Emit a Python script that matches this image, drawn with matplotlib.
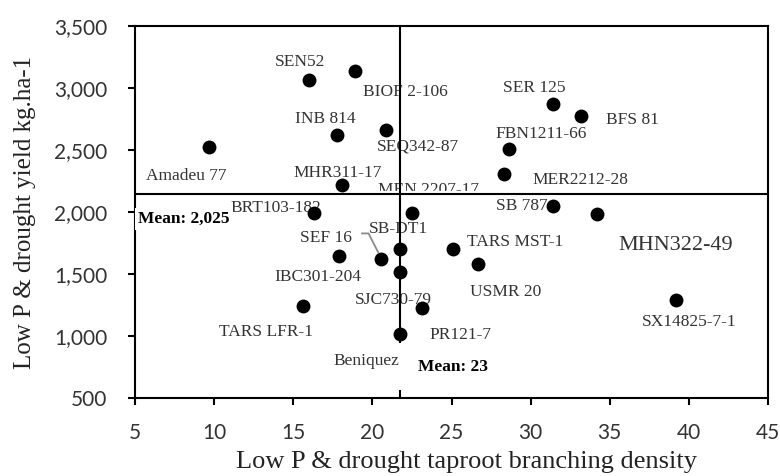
import matplotlib
matplotlib.use("Agg")
import matplotlib.pyplot as plt
from matplotlib.ticker import FuncFormatter

# Genotype data: taproot branching density vs. yield under low P & drought
genotypes = ["Amadeu 77", "SEN52", "BIOF 2-106", "INB 814", "SEQ342-87",
             "MHR311-17", "BRT103-182", "MEN 2207-17", "SB-DT1", "SEF 16",
             "IBC301-204", "SJC730-79", "TARS LFR-1", "PR121-7", "Beniquez",
             "SER 125", "BFS 81", "FBN1211-66", "MER2212-28", "SB 787",
             "MHN322-49", "TARS MST-1", "USMR 20", "SX14825-7-1"]
branching = [9.7, 16.0, 18.9, 17.75, 20.87,
             18.1, 16.3, 22.5, 21.75, 20.53,
             17.91, 21.75, 15.64, 23.12, 21.75,
             31.4, 33.17, 28.64, 28.32, 31.4,
             34.22, 25.12, 26.7, 39.18]
yield_kg = [2525, 3065, 3135, 2620, 2665,
            2215, 1995, 1995, 1705, 1620,
            1645, 1515, 1240, 1225, 1020,
            2870, 2775, 2505, 2310, 2050,
            1980, 1705, 1580, 1290]

# Reference lines and their captions
x_line = 21.75
y_line = 2145
x_caption = "Mean: 23"
y_caption = "Mean: 2,025"

x_ticks = [5, 10, 15, 20, 25, 30, 35, 40, 45]
y_ticks = [500, 1000, 1500, 2000, 2500, 3000, 3500]

# Label placement: offsets (pixels) from each point to its label centre
label_offsets = {
    "Amadeu 77": (-23, -29), "SEN52": (-9, 18), "BIOF 2-106": (50, -21),
    "INB 814": (-11, 16), "SEQ342-87": (32, -17), "MHR311-17": (-5, 12),
    "BRT103-182": (-38, 5), "MEN 2207-17": (17, 23), "SB-DT1": (-2, 20),
    "SEF 16": (-55, 21), "IBC301-204": (-21, -21), "SJC730-79": (-7, -28),
    "TARS LFR-1": (-37, -26), "PR121-7": (39, -27), "Beniquez": (-34, -27),
    "SER 125": (-19, 16), "BFS 81": (52, -4), "FBN1211-66": (32, 15),
    "MER2212-28": (76, -6), "SB 787": (-31, 0), "MHN322-49": (78, -31),
    "TARS MST-1": (62, 7), "USMR 20": (27, -28), "SX14825-7-1": (13, -22),
}
big_labels = {"MHN322-49"}

serif = "Liberation Serif"
label_color = "#333333"

fig = plt.figure(figsize=(7.8, 4.76), dpi=100)
ax = fig.add_axes([135 / 780, 78 / 476, 633 / 780, 372 / 476])
ax.set_xlim(x_ticks[0], x_ticks[-1])
ax.set_ylim(y_ticks[0], y_ticks[-1])

# Reference lines, with a white halo under the horizontal one
ax.axhline(y_line, color="white", lw=4.5, zorder=2.5)
ax.axhline(y_line, color="black", lw=1.5, zorder=3)
ax.vlines([x_line, x_line], [y_ticks[0], 945], [565, y_ticks[-1]],
          color="black", lw=1.5, zorder=3)

ax.scatter(branching, yield_kg, s=100, color="black", zorder=4, linewidths=0)

for name, xv, yv in zip(genotypes, branching, yield_kg):
    dx, dy = label_offsets[name]
    ax.annotate(name, (xv, yv), xytext=(dx, dy), textcoords="offset pixels",
                ha="center", va="center", family=serif,
                fontsize=16 if name in big_labels else 12.5,
                color=label_color, zorder=2)

# Leader from the SEF 16 label to its point
i = genotypes.index("SEF 16")
px, py = ax.transData.transform((branching[i], yield_kg[i]))
leader = [(-18.7, 25.7), (-12.2, 25.7), (-2.7, 7)]
ax.plot([px + a for a, _ in leader], [py + b for _, b in leader],
        transform=None, color="#8a8a8a", lw=1.3, zorder=3)

ax.annotate(y_caption, (x_ticks[0], y_line), xytext=(3, -25), textcoords="offset pixels",
            ha="left", va="center", family=serif, fontsize=12.5, fontweight="bold",
            color="black", zorder=6, annotation_clip=False,
            bbox=dict(boxstyle="square,pad=0.2", fc="white", ec="none"))
ax.annotate(x_caption, (x_line, y_ticks[0]), xytext=(18, 31), textcoords="offset pixels",
            ha="left", va="center", family=serif, fontsize=12.5, fontweight="bold",
            color="black", zorder=6)

for sp in ax.spines.values():
    sp.set_linewidth(1.5)
    sp.set_color("black")

ax.set_xticks(x_ticks)
ax.set_yticks(y_ticks)
ax.yaxis.set_major_formatter(FuncFormatter(lambda v, _: f"{v:,.0f}"))
ax.tick_params(axis="both", direction="out", length=5, width=1.5,
               labelsize=15, labelcolor="#333333")
ax.tick_params(axis="y", pad=15)
ax.tick_params(axis="x", pad=13)
for lab in ax.get_xticklabels() + ax.get_yticklabels():
    lab.set_family("Lato")

ax.set_xlabel("Low P & drought taproot branching density", family=serif,
              fontsize=19, color="#222222", va="center")
ax.xaxis.set_label_coords(0.5237, -0.172)
ax.set_ylabel("Low P & drought yield kg.ha-1", family=serif,
              fontsize=18, color="#222222", va="center")
ax.yaxis.set_label_coords(-0.174, 0.5)

fig.savefig("out.png", dpi=100)
